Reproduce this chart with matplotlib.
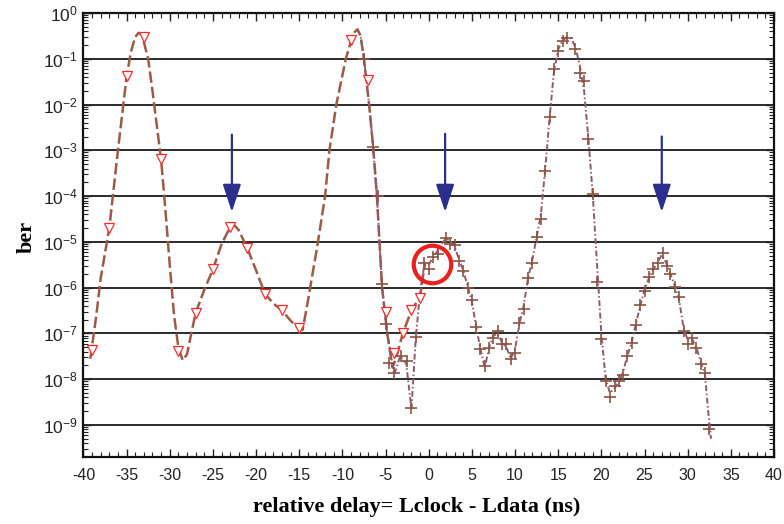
import numpy as np
import matplotlib
matplotlib.use('Agg')
import matplotlib.pyplot as plt
from matplotlib.ticker import MultipleLocator, LogLocator, NullFormatter, LogFormatterMathtext, FixedLocator

plt.rcParams['font.family'] = ['Liberation Sans', 'DejaVu Sans']
plt.rcParams['mathtext.fontset'] = 'custom'
plt.rcParams['mathtext.rm'] = 'Liberation Sans'
plt.rcParams['mathtext.it'] = 'Liberation Sans:italic'
plt.rcParams['mathtext.bf'] = 'Liberation Sans:bold'
plt.rcParams['axes.unicode_minus'] = False

# ---------------- data ----------------
# measured points, series 1 (open triangles)
tri_x = [-39, -37, -35, -33, -31, -29, -27, -25, -23, -21, -19, -17, -15,
         -9, -7, -5, -4, -3, -2, -1]
tri_ber = [4.4e-8, 2.0e-5, 4.2e-2, 0.30, 6.6e-4, 4.2e-8, 2.8e-7, 2.5e-6, 2.1e-5,
           7.2e-6, 7.2e-7, 3.3e-7, 1.3e-7,
           0.26, 3.4e-2, 3.0e-7, 3.7e-8, 1.0e-7, 3.2e-7, 5.9e-7]

# measured points, series 2 (crosses)
plus_x = [-7.5, -6.4, -5.85, -5.45, -5.0, -4.55, -4.0, -3.25, -2.5, -2.0, -1.5,
          -0.55, 0.0, 0.5, 1.1, 2.0, 2.5, 3.0, 3.5, 4.0, 4.5, 5.0, 5.5, 6.0, 6.5,
          7.0, 7.5, 8.0, 8.5, 9.0, 9.5, 10.0, 10.5, 11.0, 11.5, 12.0, 12.5, 13.0,
          13.5, 14.0, 14.5, 15.0, 15.5, 16.0, 17.0, 17.5, 18.0, 18.5, 19.0, 19.5,
          20.0, 20.5, 21.0, 21.6, 22.1, 22.5, 23.0, 23.5, 24.0, 24.5, 25.0, 25.5,
          26.0, 26.6, 27.1, 27.6, 28.0, 28.5, 29.0, 29.6, 30.0, 30.5, 31.0, 31.5,
          32.0, 32.5]
plus_ber = [9.8e-2, 1.2e-3, 1.0e-4, 1.2e-6, 1.6e-7, 2.3e-8, 1.4e-8, 3.2e-8, 2.5e-8,
            2.3e-9, 8.5e-8,
            3.4e-6, 2.6e-6, 4.6e-6, 5.5e-6, 1.2e-5, 9.1e-6, 8.7e-6, 3.9e-6, 2.3e-6,
            1.0e-6, 5.4e-7, 1.4e-7, 4.6e-8, 1.9e-8,
            4.9e-8, 8.1e-8, 1.15e-7, 5.9e-8, 6.0e-8, 2.8e-8, 3.8e-8, 1.7e-7, 3.4e-7,
            1.6e-6, 3.4e-6, 1.26e-5, 3.2e-5,
            3.5e-4, 5.4e-3, 5.9e-2, 0.15, 0.25, 0.28, 0.16, 4.9e-2, 3.2e-2, 1.8e-3,
            1.1e-4, 1.3e-6,
            7.6e-8, 9.1e-9, 4.0e-9, 7.1e-9, 9.1e-9, 1.26e-8, 3.2e-8, 6.3e-8, 1.55e-7,
            4.1e-7, 8.5e-7, 1.7e-6,
            2.5e-6, 3.4e-6, 5.6e-6, 3.0e-6, 2.0e-6, 1.05e-6, 6.3e-7, 1.15e-7, 6.0e-8,
            8.1e-8, 4.9e-8, 2.2e-8,
            1.4e-8, 8.1e-10]

# fitted curve, series 1 (dashed)
fitA_x = [-39.2, -38.5, -38.0, -37.0, -36.0, -35.0, -34.5, -34.0, -33.6, -33.2,
          -32.5, -32.0, -31.0, -30.5, -30.0, -29.5, -29.0, -28.5, -28.0, -27.5,
          -27.0, -26.0, -25.0, -24.0, -23.0, -22.5, -22.0, -21.0, -20.0, -19.0,
          -18.0, -17.0, -16.0, -15.0, -14.6, -14.0, -13.5, -13.0, -12.5, -12.0,
          -11.5, -10.7, -9.6, -9.0, -8.6, -8.25, -7.9, -7.5, -6.9, -6.4, -6.0,
          -5.7, -5.4, -4.8, -4.2, -3.8, -3.0, -2.0, -1.0, -0.7, -0.4]
fitA_ber = [2.8e-8, 2.5e-7, 1.6e-6, 2.0e-5, 1.0e-3, 4.0e-2, 0.14, 0.30, 0.37, 0.33,
            0.10, 2.0e-2, 6.3e-4, 5.0e-5, 3.2e-6, 2.5e-7, 5.0e-8, 2.6e-8, 3.5e-8, 1.0e-7,
            2.8e-7, 8.9e-7, 2.5e-6, 8.9e-6, 2.1e-5, 2.3e-5, 1.8e-5, 7.2e-6, 2.4e-6, 7.6e-7,
            4.5e-7, 3.2e-7, 1.9e-7, 1.26e-7, 1.2e-7, 5.0e-7, 1.8e-6, 6.3e-6, 2.5e-5, 1.0e-4,
            1.0e-3, 1.0e-2, 0.10, 0.24, 0.38, 0.44, 0.32, 0.10, 1.0e-2, 1.0e-3, 1.0e-4,
            1.0e-5, 1.0e-6, 1.0e-7, 1.8e-8, 2.8e-8, 1.0e-7, 3.2e-7, 6.3e-7, 1.6e-6, 3.5e-6]

# fitted curve, series 2 (dash-dot)
fitB_x = [-8.25, -7.9, -7.5, -6.9, -6.4, -6.0, -5.7, -5.4, -4.8, -4.0, -3.3, -2.6,
          -2.0, -1.5, -1.1, -0.8, -0.5, 0.0, 0.5, 1.0, 1.5, 2.0, 2.5, 3.0, 3.5, 4.0,
          4.5, 5.0, 5.5, 6.0, 6.5, 7.0, 7.5, 8.0, 8.5, 9.0, 9.5, 10.0, 10.5, 11.0,
          11.5, 12.0, 12.5, 13.0, 13.5, 14.0, 14.5, 15.0, 15.5, 16.0, 16.5, 17.0,
          17.5, 18.0, 18.5, 19.0, 19.5, 20.0, 20.5, 21.0, 21.5, 22.0, 22.5, 23.0,
          23.5, 24.0, 24.5, 25.0, 25.5, 26.0, 26.5, 27.0, 27.5, 28.0, 28.5, 29.0,
          29.5, 30.0, 30.5, 31.0, 31.5, 32.0, 32.4, 32.7]
fitB_ber = [0.44, 0.32, 0.10, 1.0e-2, 1.0e-3, 1.0e-4, 1.0e-5, 1.0e-6, 1.0e-7, 1.26e-8,
            3.2e-8, 2.2e-8,
            2.2e-9, 7.9e-8, 5.0e-7, 1.4e-6, 3.2e-6, 3.2e-6, 4.5e-6, 6.3e-6, 8.9e-6,
            1.2e-5, 1.05e-5, 7.9e-6, 4.2e-6, 2.4e-6,
            1.1e-6, 5.0e-7, 1.4e-7, 4.5e-8, 1.8e-8, 5.0e-8, 8.9e-8, 1.0e-7, 6.3e-8,
            5.0e-8, 2.8e-8, 4.5e-8, 1.6e-7, 4.0e-7,
            1.6e-6, 4.0e-6, 1.26e-5, 4.0e-5, 4.0e-4, 5.0e-3, 5.0e-2, 0.16, 0.25, 0.30,
            0.28, 0.18,
            7.1e-2, 2.0e-2, 1.8e-3, 1.1e-4, 3.2e-6, 1.0e-7, 1.0e-8, 5.0e-9, 6.3e-9,
            8.9e-9, 1.4e-8, 3.2e-8,
            6.3e-8, 1.6e-7, 4.0e-7, 8.9e-7, 1.6e-6, 2.5e-6, 3.5e-6, 5.2e-6, 3.5e-6,
            2.0e-6, 1.1e-6, 5.6e-7,
            1.4e-7, 7.1e-8, 7.6e-8, 5.0e-8, 2.5e-8, 1.26e-8, 1.8e-9, 5.0e-10]

# annotation arrows (x position, start ber, tip ber)
arrow_x = [-22.8, 1.9, 27.0]
arrow_top = [2.2e-3, 2.3e-3, 2.0e-3]
arrow_tip = [4.5e-5, 4.5e-5, 4.5e-5]

# highlighted point (red circle)
circle_x = [0.35]
circle_ber = [3.3e-6]

x_ticks = list(range(-40, 41, 5))
y_ticks = [1e-9, 1e-8, 1e-7, 1e-6, 1e-5, 1e-4, 1e-3, 1e-2, 1e-1, 1e0]

# ---------------- figure ----------------
W, H = 784, 524
fig = plt.figure(figsize=(W / 100, H / 100), dpi=100)
L, R, T, B = 83.4, 774.0, 13.0, 457.0
ax = fig.add_axes([L / W, 1 - B / H, (R - L) / W, (B - T) / H])

ax.set_xlim(-40, 40)
ax.set_yscale('log')
ax.set_ylim(2e-10, 1)

ax.yaxis.grid(True, which='major', color='#1a1a1a', lw=1.3, zorder=0)
ax.set_axisbelow(True)

ax.plot(fitA_x, fitA_ber, color='#9E5A45', lw=1.8, dashes=(4.6, 1.6), zorder=3)
ax.plot(fitB_x, fitB_ber, color='#8E5A72', lw=1.4, dashes=(3.0, 1.3, 0.8, 1.3), zorder=3)
ax.plot(tri_x, tri_ber, ls='none', marker='v', ms=7.5, mfc='white', mec='#FF2A2A',
        mew=0.9, zorder=4)
ax.plot(plus_x, plus_ber, ls='none', marker='+', ms=8, mec='#8B5444', mew=1.2, zorder=5)

for xa, yt, yb in zip(arrow_x, arrow_top, arrow_tip):
    ax.annotate('', xy=(xa, yb), xytext=(xa, yt),
                arrowprops=dict(arrowstyle='-|>,head_length=17,head_width=5.6',
                                mutation_scale=1, color='#2B2E8C', lw=1.6,
                                shrinkA=0, shrinkB=0), zorder=6)

ax.plot(circle_x, circle_ber, ls='none', marker='o', ms=27, mfc='none',
        mec='#E8201E', mew=3, zorder=7)

# ticks
ax.xaxis.set_major_locator(FixedLocator(x_ticks))
ax.xaxis.set_minor_locator(MultipleLocator(1))
ax.set_xticklabels([str(v) for v in x_ticks])
ax.yaxis.set_major_locator(FixedLocator(y_ticks))
ax.yaxis.set_minor_locator(LogLocator(base=10, subs=np.arange(2, 10), numticks=30))
ax.yaxis.set_major_formatter(LogFormatterMathtext())
ax.yaxis.set_minor_formatter(NullFormatter())

ax.tick_params(which='both', direction='in', top=True, right=True, colors='#222222')
ax.tick_params(which='major', length=6, width=1.0)
ax.tick_params(which='minor', length=3.5, width=0.8)
ax.tick_params(axis='x', labelsize=11.5, pad=8)
ax.tick_params(axis='y', labelsize=12.5, pad=4)
for lab in ax.get_xticklabels() + ax.get_yticklabels():
    lab.set_color('#222222')

for s in ax.spines.values():
    s.set_linewidth(1.6)
    s.set_color('#111111')

ax.set_xlabel('relative delay= Lclock - Ldata (ns)', family='Liberation Serif',
              fontweight='bold', fontsize=16, va='center')
ax.xaxis.set_label_coords((416.5 - L) / (R - L), -(507 - B) / (B - T))
ax.set_ylabel('ber', family='Liberation Serif', fontweight='bold', fontsize=16,
              va='center')
ax.yaxis.set_label_coords((27 - L) / (R - L), (B - 237) / (B - T))

fig.savefig('out.png', dpi=100)
